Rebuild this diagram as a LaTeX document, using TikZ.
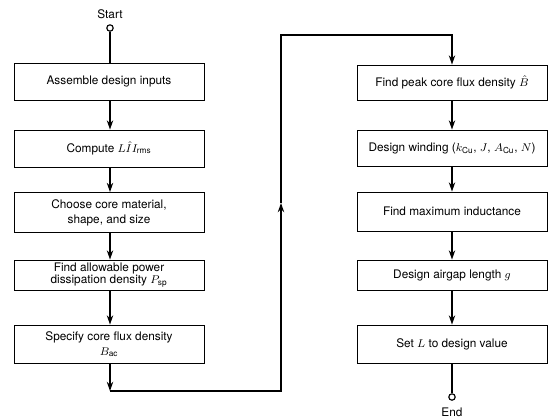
\documentclass[tikz,border=0pt]{standalone}
\usepackage{amsmath}
\usepackage{fontspec}
\setmainfont{TeX Gyre Heros}
\usetikzlibrary{arrows.meta}

\tikzset{
  stepbox/.style={draw, line width=0.6pt, minimum width=4.75cm, align=center,
    font=\fontsize{8.4}{10.5}\selectfont},
  flow/.style={line width=1.1pt},
  endpoint/.style={draw, circle, line width=0.8pt, inner sep=0pt, minimum size=0.16cm},
  tag/.style={font=\fontsize{8.4}{10}\selectfont},
}

\begin{document}
\begin{tikzpicture}[x=0.025cm, y=-0.025cm, >={Stealth[length=6.5pt,width=4.5pt,inset=2pt]}]
    \useasboundingbox (0,0) rectangle (548,417);

    % left column
    \node[tag] (startlabel) at (110,14) {Start};
    \node[endpoint] (start) at (110,28) {};
    \node[stepbox, minimum height=0.925cm] (a1) at (109,81.5) {Assemble design inputs};
    \node[stepbox, minimum height=0.925cm] (a2) at (109,148.5) {Compute $L\hat{I}I_{\text{rms}}$};
    \node[stepbox, minimum height=1cm] (a3) at (109,212.5) {Choose core material,\\ shape, and size};
    \node[stepbox, minimum height=0.75cm, inner sep=1pt, font=\fontsize{8.4}{8.8}\selectfont] (a4) at (109,275) {Find allowable power\\ dissipation density $P_{\text{sp}}$};
    \node[stepbox, minimum height=0.95cm] (a5) at (109,344) {Specify core flux density\\ $B_{\text{ac}}$};

    % right column
    \node[stepbox, minimum height=0.875cm] (b1) at (452,82.5) {Find peak core flux density $\hat{B}$};
    \node[stepbox, minimum height=0.9cm] (b2) at (452,148) {Design winding ($k_{\text{Cu}}$, $J$, $A_{\text{Cu}}$, $N$)};
    \node[stepbox, minimum height=0.975cm] (b3) at (452,211.5) {Find maximum inductance};
    \node[stepbox, minimum height=0.75cm] (b4) at (452,275) {Design airgap length $g$};
    \node[stepbox, minimum height=0.95cm] (b5) at (452,344) {Set $L$ to design value};
    \node[endpoint] (end) at (452,397) {};
    \node[tag] (endlabel) at (452,412) {End};

    % return path
    \coordinate (c1) at (110,391);
    \coordinate (c2) at (281,391);
    \coordinate (c3) at (281,203);
    \coordinate (c4) at (281,35);
    \coordinate (c5) at (452,35);

    \draw[flow] (start) -- (start |- a1.north);
    \draw[flow,->] (start |- a1.south) -- (start |- a2.north);
    \draw[flow,->] (start |- a2.south) -- (start |- a3.north);
    \draw[flow,->] (start |- a3.south) -- (start |- a4.north);
    \draw[flow,->] (start |- a4.south) -- (start |- a5.north);
    \draw[flow,->] (start |- a5.south) -- (c1);
    \draw[flow,->] (c1) -- (c2) -- (c3);
    \draw[flow,->] (c3) -- (c4) -- (c5) -- (b1);
    \draw[flow,->] (b1) -- (b2);
    \draw[flow,->] (b2) -- (b3);
    \draw[flow,->] (b3) -- (b4);
    \draw[flow,->] (b4) -- (b5);
    \draw[flow] (b5) -- (end);
\end{tikzpicture}
\end{document}
